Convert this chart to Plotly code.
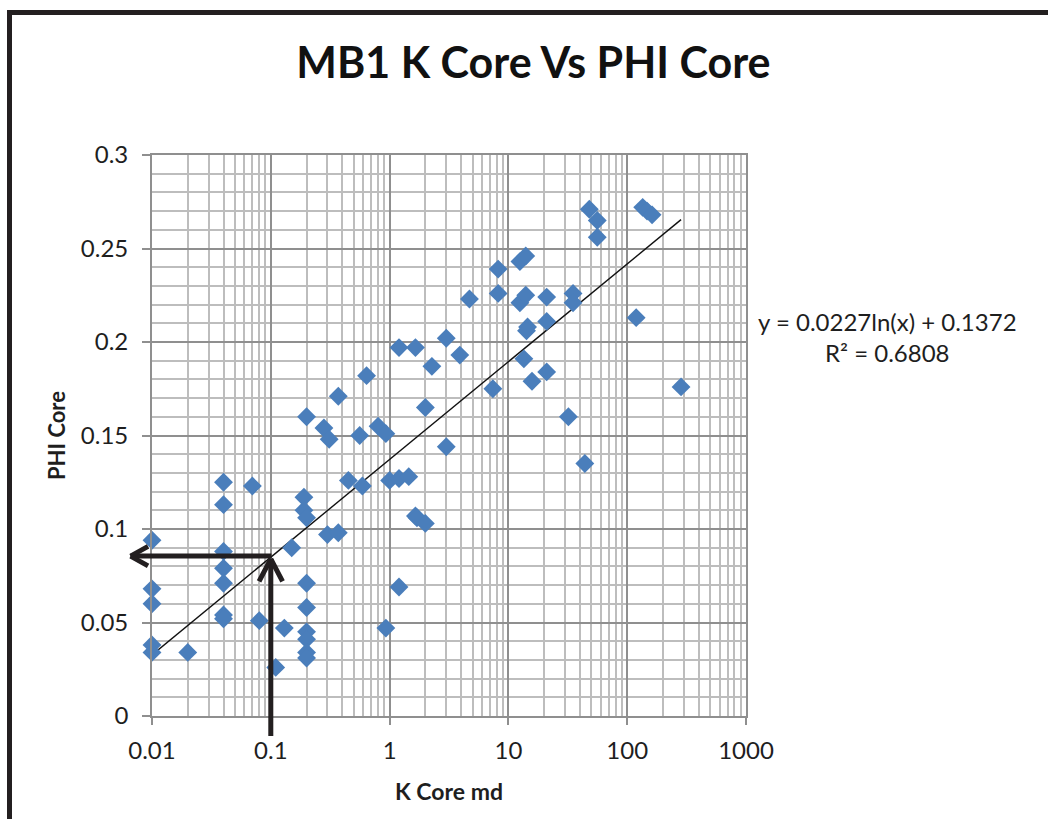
import numpy as np
import plotly.graph_objects as go

# ---- data ----
K_CORE = [0.01, 0.01, 0.01, 0.01, 0.01,
          0.02,
          0.04, 0.04, 0.04, 0.04, 0.04, 0.04, 0.04,
          0.07, 0.08, 0.11, 0.13, 0.15,
          0.19, 0.19, 0.2, 0.2, 0.2, 0.2, 0.2, 0.2, 0.2, 0.2,
          0.28, 0.3, 0.31, 0.37, 0.37, 0.45, 0.56, 0.59, 0.64, 0.8,
          0.93, 0.93, 1.0, 1.2, 1.2, 1.2, 1.45, 1.65, 1.65, 1.7,
          2.0, 2.0, 2.27, 3.0, 3.0, 3.9, 4.7, 7.4, 8.2, 8.2,
          12.5, 12.5, 14, 13.5, 14, 14.5, 14.2, 15.8, 21, 21, 21,
          32, 35, 35, 44, 48, 56, 56, 119, 135, 147, 162, 284]
PHI_CORE = [0.094, 0.068, 0.060, 0.038, 0.034,
            0.034,
            0.125, 0.113, 0.088, 0.079, 0.071, 0.054, 0.052,
            0.123, 0.051, 0.026, 0.047, 0.090,
            0.117, 0.110, 0.106, 0.160, 0.071, 0.058, 0.045, 0.041, 0.034, 0.031,
            0.154, 0.097, 0.148, 0.171, 0.098, 0.126, 0.150, 0.123, 0.182, 0.155,
            0.151, 0.047, 0.126, 0.197, 0.127, 0.069, 0.128, 0.197, 0.107, 0.106,
            0.165, 0.103, 0.187, 0.202, 0.144, 0.193, 0.223, 0.175, 0.239, 0.226,
            0.243, 0.221, 0.246, 0.191, 0.225, 0.208, 0.206, 0.179, 0.224, 0.211, 0.184,
            0.160, 0.226, 0.221, 0.135, 0.271, 0.265, 0.256, 0.213, 0.272, 0.270, 0.268, 0.176]

# logarithmic trendline coefficients shown on the chart
TREND_A = 0.0227
TREND_B = 0.1372
EQ_TEXT = "y = 0.0227ln(x) + 0.1372"
R2_TEXT = "R² = 0.6808"

TITLE = "MB1 K Core Vs PHI Core"
X_TITLE = "K Core md"
Y_TITLE = "PHI Core"

X_RANGE_LOG = [-2, 3]
Y_RANGE = [0, 0.3]

# read-off lines (arrows) drawn on the chart
ARROW_K = 0.1
ARROW_PHI = 0.0855
ARROW_LEFT_K = 0.0066
ARROW_BOTTOM_PHI = -0.011

FONT = "Lato"
BLUE = "#4A7EBB"
MAJOR_GRID = "#8f8f8f"
MINOR_GRID = "#bdbdbd"
TXT = "#1e1e1e"

fig = go.Figure()

trend_x = np.geomspace(min(K_CORE), max(K_CORE), 200)
trend_y = TREND_A * np.log(trend_x) + TREND_B
fig.add_trace(go.Scatter(x=trend_x, y=trend_y, mode="lines",
                         line=dict(color="#111111", width=1.4),
                         hoverinfo="skip", showlegend=False))

fig.add_trace(go.Scatter(x=K_CORE, y=PHI_CORE, mode="markers", cliponaxis=False,
                         marker=dict(symbol="diamond", size=14.5, color=BLUE,
                                     line=dict(width=0)),
                         showlegend=False))

fig.update_layout(
    width=1048, height=819,
    margin=dict(l=152, r=302, t=155, b=103),
    paper_bgcolor="white", plot_bgcolor="white",
    font=dict(family=FONT, color=TXT),
    title=dict(text="<b>" + TITLE + "</b>", x=0.509, xref="container", xanchor="center",
               y=1 - 63 / 819, yref="container", yanchor="middle",
               font=dict(family=FONT, size=43, color="#111111")),
    showlegend=False,
)

fig.update_xaxes(
    type="log", range=X_RANGE_LOG, dtick=1, exponentformat="none",
    showgrid=True, gridcolor=MAJOR_GRID, gridwidth=1.8,
    minor=dict(dtick="D1", showgrid=True, gridcolor=MINOR_GRID, gridwidth=1.5, ticks=""),
    showline=True, linecolor=MAJOR_GRID, linewidth=1.8, mirror=True,
    ticks="outside", ticklen=7, tickcolor=MAJOR_GRID, tickwidth=1.5,
    tickfont=dict(size=24, color=TXT), ticklabelstandoff=5,
    title=dict(text="<b>" + X_TITLE + "</b>", font=dict(size=23, color=TXT), standoff=21),
    zeroline=False,
)
fig.update_yaxes(
    range=Y_RANGE, dtick=0.05,
    showgrid=True, gridcolor=MAJOR_GRID, gridwidth=1.8,
    minor=dict(dtick=0.01, showgrid=True, gridcolor=MINOR_GRID, gridwidth=1.5, ticks=""),
    showline=True, linecolor=MAJOR_GRID, linewidth=1.8, mirror=True,
    ticks="outside", ticklen=8, tickcolor=MAJOR_GRID, tickwidth=1.5,
    tickfont=dict(size=24, color=TXT), ticklabelstandoff=9,
    title=dict(text="<b>" + Y_TITLE + "</b>", font=dict(size=22, color=TXT), standoff=9),
    zeroline=False,
)

# trendline equation
fig.add_annotation(xref="paper", yref="paper", x=(887 - 152) / 594, y=(716 - 337) / 561,
                   text=EQ_TEXT + "<br>" + R2_TEXT, showarrow=False, align="center",
                   font=dict(size=24, color=TXT), xanchor="center", yanchor="middle")

ARROW_COL = "#231f20"
AW = 5
lx = np.log10(ARROW_K)
tipx = np.log10(ARROW_LEFT_K)
# the left tip lies outside the x range, so express it as a plot-area fraction
tip_frac = (tipx - X_RANGE_LOG[0]) / (X_RANGE_LOG[1] - X_RANGE_LOG[0])
common = dict(text="", showarrow=True, arrowhead=0, arrowwidth=AW, arrowcolor=ARROW_COL,
              standoff=0, startstandoff=0, borderpad=0, font=dict(size=1))
# horizontal shaft
fig.add_annotation(x=tipx, y=ARROW_PHI, xref="x", yref="y",
                   ax=lx + 0.01, ay=ARROW_PHI, axref="x", ayref="y", **common)
# vertical shaft
fig.add_annotation(x=lx, y=ARROW_PHI - 0.0015, xref="x", yref="y",
                   ax=lx, ay=ARROW_BOTTOM_PHI, axref="x", ayref="y", **common)
# chevron heads
for dx, dy in [(18, -10), (18, 10)]:
    fig.add_annotation(x=tip_frac, y=ARROW_PHI, xref="paper", yref="y",
                       ax=dx, ay=dy, **common)
for dx, dy in [(-12, 23), (12, 23)]:
    fig.add_annotation(x=lx, y=ARROW_PHI - 0.0015, xref="x", yref="y",
                       ax=dx, ay=dy, **common)

# chart-area frame (thick black border, right/bottom edges lie outside the picture)
fig.add_shape(type="rect", xref="paper", yref="paper",
              x0=(9.5 - 152) / 594, x1=(1060 - 152) / 594,
              y0=(716 - 830) / 561, y1=(716 - 12.5) / 561,
              line=dict(color=ARROW_COL, width=5), layer="above")

fig.write_html("out.html")
